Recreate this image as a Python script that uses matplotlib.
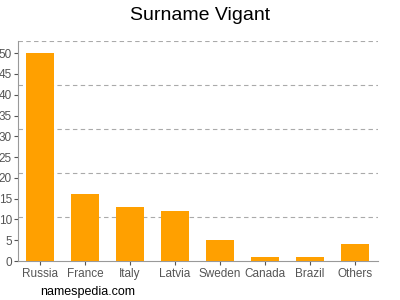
import numpy as np
import matplotlib.pyplot as plt
from matplotlib.ticker import FixedLocator

plt.rcParams['font.family'] = ['Liberation Sans', 'DejaVu Sans']

# data
countries = ['Russia', 'France', 'Italy', 'Latvia', 'Sweden', 'Canada', 'Brazil', 'Others']
counts = [50, 16, 13, 12, 5, 1, 1, 4]
yticks = [0, 5, 10, 15, 20, 25, 30, 35, 40, 45, 50]
ymax = 52.9

fig = plt.figure(figsize=(4, 3), dpi=100)
ax = fig.add_axes([0.0438, 0.13, 0.9, 0.733])

x = np.arange(len(countries))
ax.bar(x, counts, width=0.62, color='#ffa000', zorder=3)

ax.set_xlim(-0.5, len(countries) - 0.5)
ax.set_ylim(0, ymax)
ax.set_xticks(x)
ax.set_xticklabels(countries)
ax.set_yticks(yticks)
ax.yaxis.set_minor_locator(FixedLocator([ymax * k / 5 for k in range(1, 6)]))
ax.grid(which='minor', axis='y', color='#aaaaaa', linestyle=(0, (4, 3)), linewidth=0.8)
ax.tick_params(which='minor', length=0)
ax.tick_params(axis='both', labelsize=8.5, colors='#555555', length=3, width=0.8, pad=1)
ax.tick_params(axis='x', pad=2)

for s in ['top', 'right']:
    ax.spines[s].set_visible(False)
for s in ['left', 'bottom']:
    ax.spines[s].set_color('#999999')
    ax.spines[s].set_linewidth(0.8)

fig.text(0.5, 0.95, 'Surname Vigant', ha='center', va='center', fontsize=14)
fig.text(0.1, 0.028, 'namespedia.com', ha='left', va='center', fontsize=9)

plt.savefig('out.png', dpi=100)
